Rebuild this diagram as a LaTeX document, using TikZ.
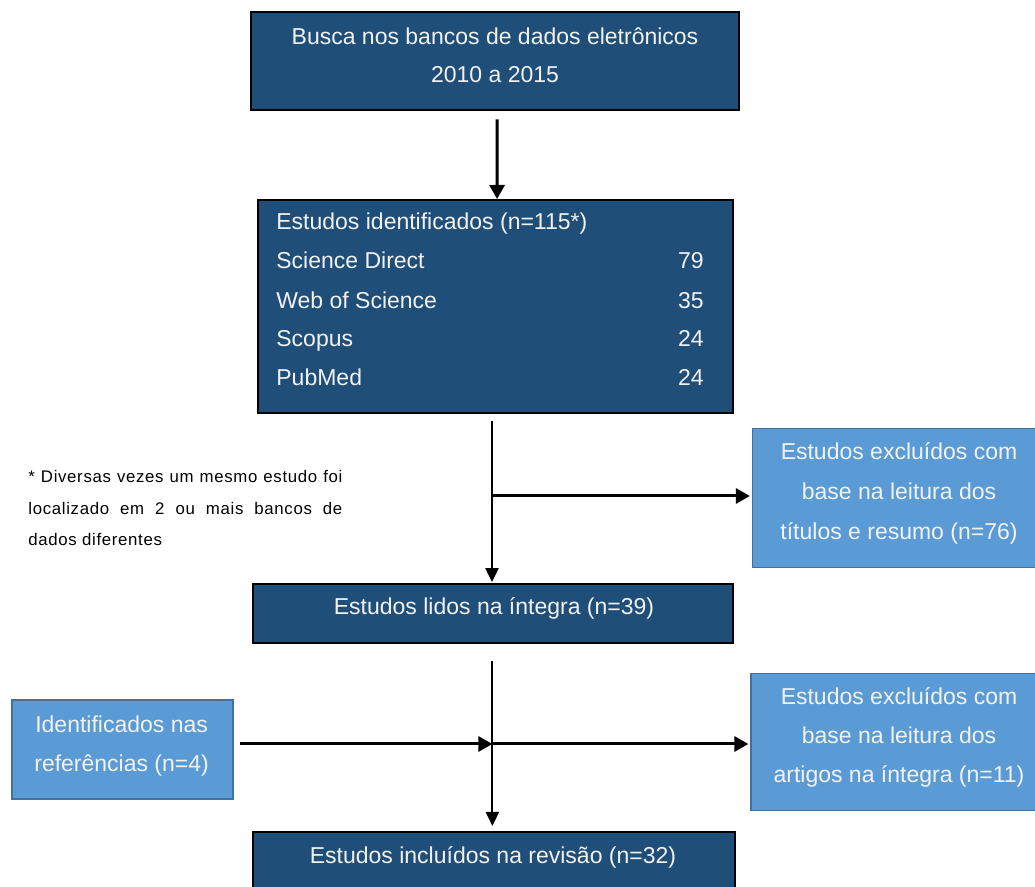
\documentclass[tikz,border=0pt]{standalone}
\usepackage{fontspec}
\setmainfont{Liberation Sans}
\newfontfamily\notefont[LetterSpace=4]{Liberation Sans}
\usetikzlibrary{arrows.meta,calc}
\definecolor{darkblue}{HTML}{1F4E79}
\definecolor{lightblue}{HTML}{5B9BD5}
\definecolor{lightborder}{HTML}{41719C}
\definecolor{boxtxt}{HTML}{F2F2F2}
\begin{document}
\begin{tikzpicture}[x=0.5pt,y=-0.5pt,
  darkbox/.style={draw=black, line width=1pt, fill=darkblue, inner sep=0pt},
  lightbox/.style={draw=lightborder, line width=0.6pt, fill=lightblue, inner sep=0pt},
  boxtext/.style={text=boxtxt, font=\fontsize{11.5pt}{14pt}\selectfont, inner sep=0pt, anchor=base},
  note/.style={text=black, font=\notefont\fontsize{8.4pt}{10pt}\selectfont, inner sep=0pt, anchor=base west},
  thickarrow/.style={line width=1.5pt, -{Triangle[length=7pt,width=7.5pt]}},
  thinarrow/.style={line width=1pt, -{Triangle[length=7pt,width=6.5pt]}}]
\useasboundingbox (0,0) rectangle (1035,887);
\clip (0,0) rectangle (1035,887);

% boxes
\node[darkbox, minimum width=244pt, minimum height=49pt] (b1) at (495,61.4) {};
\node[darkbox, minimum width=237.5pt, minimum height=106.5pt] (b2) at (495.7,306.5) {};
\node[darkbox, minimum width=240.25pt, minimum height=29.2pt] (b3) at (493,613.5) {};
\node[darkbox, minimum width=240.9pt, minimum height=34pt] (b4) at (493.7,866) {};
\node[lightbox, minimum width=143.75pt, minimum height=69.5pt] (s1) at (896.25,497.8) {};
\node[lightbox, minimum width=144.5pt, minimum height=68.7pt] (s2) at (895.5,742) {};
\node[lightbox, minimum width=110.5pt, minimum height=49.5pt] (l1) at (122.5,749.5) {};

% texts
\node[boxtext] (b1a) at (495,44.3) {Busca nos bancos de dados eletrônicos};
\node[boxtext] (b1b) at (495,82.7) {2010 a 2015};

\node[boxtext, anchor=base west] (b2a) at (276,230) {Estudos identificados (n=115*)};
\node[boxtext, anchor=base west] (b2b) at (276,268.3) {Science Direct};
\node[boxtext, anchor=base west] (b2c) at (276,308.3) {Web of Science};
\node[boxtext, anchor=base west] (b2d) at (276,346.7) {Scopus};
\node[boxtext, anchor=base west] (b2e) at (276,386) {PubMed};
\node[boxtext, anchor=base east] (b2f) at (704,268.3) {79};
\node[boxtext, anchor=base east] (b2g) at (704,308.3) {35};
\node[boxtext, anchor=base east] (b2h) at (704,346.7) {24};
\node[boxtext, anchor=base east] (b2i) at (704,386) {24};

\node[boxtext] (b3a) at (494,614.3) {Estudos lidos na íntegra (n=39)};
\node[boxtext] (b4a) at (493,863.3) {Estudos incluídos na revisão (n=32)};

\node[boxtext] (s1a) at (899,460) {Estudos excluídos com};
\node[boxtext] (s1b) at (899,500) {base na leitura dos};
\node[boxtext] (s1c) at (899,540) {títulos e resumo (n=76)};

\node[boxtext] (s2a) at (899,705) {Estudos excluídos com};
\node[boxtext] (s2b) at (899,744) {base na leitura dos};
\node[boxtext] (s2c) at (899,782.7) {artigos na íntegra (n=11)};

\node[boxtext] (l1a) at (121.6,732.3) {Identificados nas};
\node[boxtext] (l1b) at (121.6,771.7) {referências (n=4)};

% footnote
\node[note] (n1) at (28,482.3) {\makebox[157pt][s]{* Diversas vezes um mesmo estudo foi}};
\node[note] (n2) at (28,514.3) {\makebox[157pt][s]{localizado em 2 ou mais bancos de}};
\node[note] (n3) at (28,545.7) {dados diferentes};

% connectors
\draw[thickarrow] ([xshift=1pt,yshift=-4pt]b1.south) -- ([xshift=0.7pt]b2.north);
\coordinate (j1) at (492,496);
\draw[thinarrow] ([yshift=-3.5pt]b2.south -| j1) -- ([yshift=0.6pt]b3.north -| j1);
\draw[thickarrow] (j1) -- ([xshift=-1pt]s1.west |- j1);
\coordinate (j2) at (492.4,744);
\draw[thinarrow] ([yshift=-8.5pt]b3.south -| j2) -- ([yshift=2.5pt]b4.north -| j2);
\draw[thickarrow] ([xshift=3pt]l1.east |- j2) -- (j2);
\draw[thickarrow] (j2) -- ([xshift=-1pt]s2.west |- j2);
\end{tikzpicture}
\end{document}
